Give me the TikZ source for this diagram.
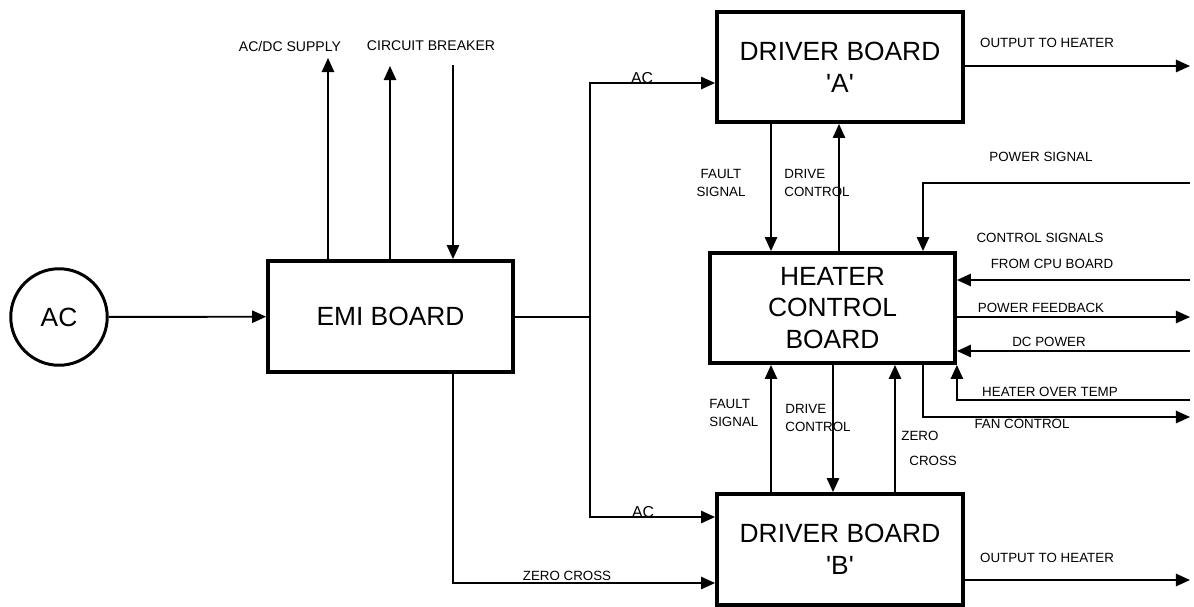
\documentclass[tikz,border=0pt]{standalone}
\usepackage{fontspec}
\setmainfont{Liberation Sans}
\usetikzlibrary{arrows.meta, calc}
\tikzset{
	board/.style ={rectangle, draw=black, line width=2.2pt, minimum width=4.9cm, minimum height=2.2cm, align=center, inner sep=0pt, font=\fontsize{15}{18}\selectfont},
	source/.style={circle, draw=black, line width=1.7pt, minimum size=1.93cm, inner sep=0pt, font=\fontsize{15}{18}\selectfont},
	sig/.style   ={-{Triangle[length=8pt, width=7pt]}, line width=1.1pt},
	wire/.style  ={line width=1.1pt},
	lbl/.style   ={font=\fontsize{7.6}{10.2}\selectfont, inner sep=0pt, align=center},
	aclbl/.style ={font=\fontsize{9}{10}\selectfont, inner sep=0pt},
}
\begin{document}
\begin{tikzpicture}[x=0.02cm, y=-0.02cm]
	\useasboundingbox (0,0) rectangle (1194,606);
	% boards
	\node[source] (ac) at (59,317) {AC};
	\node[board, minimum height=2.22cm] (emi) at (390.5,316.5) {EMI BOARD};
	\node[board, minimum width=4.92cm] (dra) at (840,67) {DRIVER BOARD\\\textquotesingle A\textquotesingle};
	\node[board, minimum width=4.92cm, minimum height=2.22cm] (drb) at (840,549.5) {DRIVER BOARD\\\textquotesingle B\textquotesingle};
	\node[board] (hcb) at (832.5,308) {HEATER\\CONTROL\\BOARD};
	% mains in
	\draw[sig] (ac) -- (emi);
	% supply and breaker
	\coordinate (supply) at (328,58);
	\coordinate (brkout) at (390,66);
	\coordinate (brkin) at (453,65);
	\draw[sig] (emi.north -| supply) -- (supply);
	\draw[sig] (emi.north -| brkout) -- (brkout);
	\draw[sig] (brkin) -- (emi.north -| brkin);
	\node[lbl, font=\fontsize{8}{10}\selectfont] (supplylbl) at (290,46) {AC/DC SUPPLY};
	\node[lbl, font=\fontsize{8}{10}\selectfont] (brklbl) at (431,46) {CIRCUIT BREAKER};
	% ac feed to driver boards
	\coordinate (split) at (590,317);
	\coordinate (splittop) at (590,83);
	\coordinate (splitbot) at (590,517);
	\draw[wire] (emi.east |- split) -- (split);
	\draw[sig] (split) -- (splittop) -- (dra.west |- splittop);
	\draw[sig] (split) -- (splitbot) -- (drb.west |- splitbot);
	\node[aclbl, anchor=base] (aclblA) at (642,83.5) {AC};
	\node[aclbl, anchor=base] (aclblB) at (643,517.5) {AC};
	% zero cross from emi
	\coordinate (zcdrop) at (453,583);
	\draw[sig] (emi.south -| zcdrop) -- (zcdrop) -- (drb.west |- zcdrop);
	\node[lbl, anchor=base] (zclbl) at (567,580) {ZERO CROSS};
	% driver A <-> heater control
	\coordinate (faultA) at (771,0);
	\coordinate (driveA) at (839,0);
	\draw[sig] (dra.south -| faultA) -- (hcb.north -| faultA);
	\draw[sig] (hcb.north -| driveA) -- (dra.south -| driveA);
	\node[lbl] (faultAlbl) at (721,183) {FAULT\\SIGNAL};
	\node[lbl, align=left, anchor=west] (driveAlbl) at (784,183) {DRIVE\\CONTROL};
	% driver B <-> heater control
	\coordinate (faultB) at (771,0);
	\coordinate (driveB) at (833,0);
	\coordinate (zcB) at (895,0);
	\draw[sig] (drb.north -| faultB) -- (hcb.south -| faultB);
	\draw[sig] (hcb.south -| driveB) -- (drb.north -| driveB);
	\draw[sig] (drb.north -| zcB) -- (hcb.south -| zcB);
	\node[lbl, align=left, anchor=west] (faultBlbl) at (709,413) {FAULT\\SIGNAL};
	\node[lbl, align=left, anchor=west] (driveBlbl) at (785,418) {DRIVE\\CONTROL};
	\node[lbl, anchor=west] (zeroBlbl) at (901,436) {ZERO};
	\node[lbl, anchor=west] (crossBlbl) at (909,461) {CROSS};
	% heater control right side
	\coordinate (pwrsig) at (1190,183);
	\coordinate (cpu) at (1190,280);
	\coordinate (feedback) at (1190,317);
	\coordinate (dcpwr) at (1190,351);
	\coordinate (overtemp) at (1190,400);
	\coordinate (fan) at (1190,417);
	\draw[sig] (pwrsig) -- (923,183) -- (923,0 |- hcb.north);
	\draw[sig] (cpu) -- (hcb.east |- cpu);
	\draw[sig] (hcb.east |- feedback) -- (feedback);
	\draw[sig] (dcpwr) -- (hcb.east |- dcpwr);
	\draw[sig] (overtemp) -- (hcb.south east |- overtemp) -- (hcb.south east);
	\draw[sig] (hcb.south -| 923,0) -- (923,417) -- (fan);
	\node[lbl] (pwrsiglbl) at (1041,157) {POWER SIGNAL};
	\node[lbl] (ctrllbl) at (1040,238) {CONTROL SIGNALS};
	\node[lbl] (cpulbl) at (1052,264) {FROM CPU BOARD};
	\node[lbl] (feedbacklbl) at (1041,308) {POWER FEEDBACK};
	\node[lbl] (dcpwrlbl) at (1049,342) {DC POWER};
	\node[lbl] (overtemplbl) at (1050,392) {HEATER OVER TEMP};
	\node[lbl] (fanlbl) at (1022,424) {FAN CONTROL};
	% outputs
	\coordinate (outA) at (1190,66);
	\coordinate (outB) at (1190,580);
	\draw[sig] (dra.east |- outA) -- (outA);
	\draw[sig] (drb.east |- outB) -- (outB);
	\node[lbl] (outAlbl) at (1047,43) {OUTPUT TO HEATER};
	\node[lbl] (outBlbl) at (1047,558) {OUTPUT TO HEATER};
\end{tikzpicture}
\end{document}
